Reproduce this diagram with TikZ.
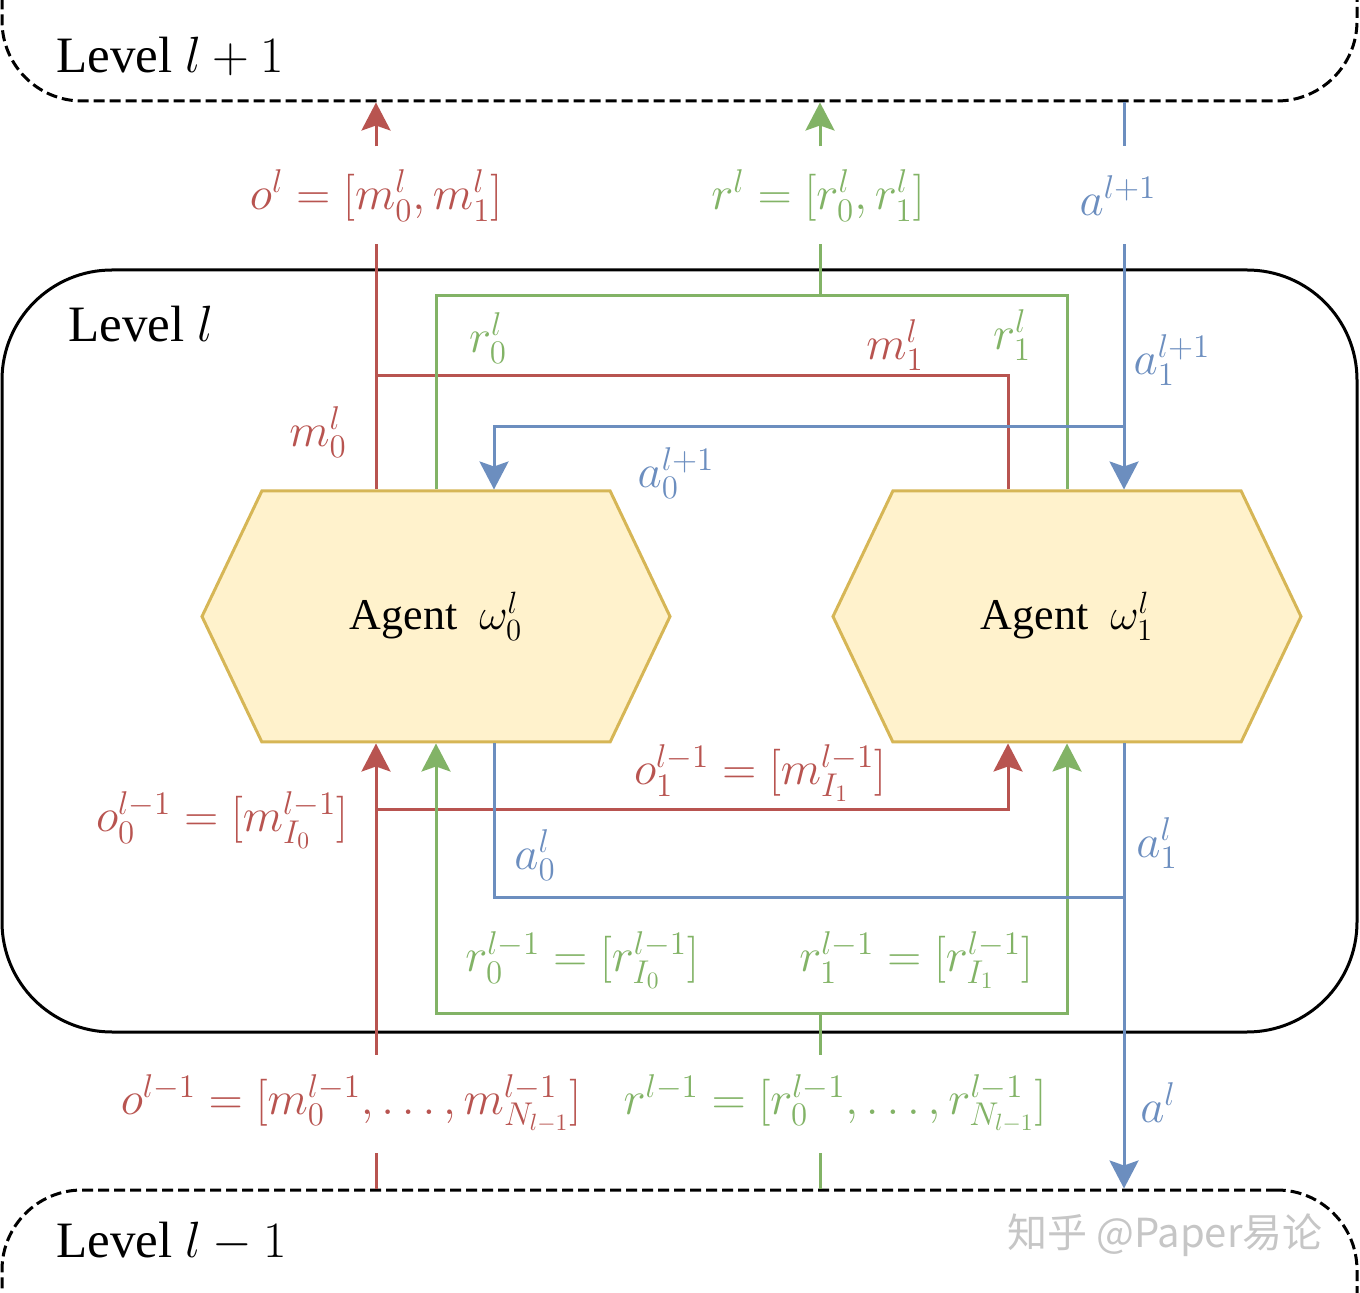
\RequirePackage{fix-cm}
\documentclass[tikz,border=0pt]{standalone}
\usepackage{fontspec}
\setmainfont{Liberation Serif}
\newfontfamily\cjk{Noto Sans CJK SC}
\usetikzlibrary{arrows.meta,shapes.symbols,calc}
\definecolor{cred}{HTML}{B85450}
\definecolor{cgreen}{HTML}{82B366}
\definecolor{cblue}{HTML}{6C8EBF}
\definecolor{cfill}{HTML}{FFF2CC}
\definecolor{cborder}{HTML}{D6B656}
\begin{document}
\begin{tikzpicture}[x=0.5pt,y=-0.5pt,line width=1.5pt,
  agent/.style={shape=signal, signal to=west and east, signal pointer angle=129,
    draw=cborder, fill=cfill, minimum width=234pt, minimum height=125.5pt,
    inner sep=0pt, font=\fontsize{22}{26}\selectfont},
  levelbox/.style={draw=black, rectangle, minimum width=677.5pt},
  lvltext/.style={anchor=base west, inner sep=0pt, font=\fontsize{25.5}{30}\selectfont},
  lab/.style={font=\fontsize{23.5}{28}\selectfont, inner sep=0pt},
  gaplab/.style={lab, minimum height=47.5pt},
  tip/.style={-{Stealth[length=14pt,width=14.5pt,inset=2.5pt]}}]
\useasboundingbox (0,0) rectangle (1360,1293);

% level boxes
\node[levelbox, dashed, dash pattern=on 5.5pt off 2.5pt, rounded corners=40pt, minimum height=151pt] (top) at (679.5,-50) {};
\node[levelbox, rounded corners=55pt, minimum height=381pt] (mid) at (679.5,651) {};
\node[levelbox, dashed, dash pattern=on 5.5pt off 2.5pt, rounded corners=40pt, minimum height=151pt] (bot) at (679.5,1341) {};
\node[lvltext] (tl) at (55,73) {Level $l+1$};
\node[lvltext] (ml) at (67,342) {Level $l$};
\node[lvltext] (bl) at (55,1257) {Level $l-1$};

% agents
\node[agent] (agent0) at (436,616.5) {Agent\ \ $\omega_0^l$};
\node[agent] (agent1) at (1067,616.5) {Agent\ \ $\omega_1^l$};

% column coordinates
\coordinate (xr) at (376,0);
\coordinate (xr1) at (1008,0);
\coordinate (xg) at (820,0);
\coordinate (xb) at (1124,0);
\coordinate (xb0) at (494,0);
\coordinate (mjoin) at (376,376);
\coordinate (gtop) at (820,296);
\coordinate (bjoin) at (1124,427);
\coordinate (rjoinb) at (376,810);
\coordinate (gbot) at (820,1013);
\coordinate (bjoinb) at (1124,897);

% gap labels
\node[gaplab, text=cred] (ol) at (376,195.5) {$o^l=[m_0^l,m_1^l]$};
\node[gaplab, text=cgreen] (rlt) at (818,195.5) {$r^l=[r_0^l,r_1^l]$};
\node[gaplab, text=cblue] (al1) at (1118,195.5) {$a^{l+1}$};
\node[gaplab, text=cred] (olm) at (351,1103.5) {$o^{l-1}=[m_0^{l-1},\ldots,m_{N_{l-1}}^{l-1}]$};
\node[gaplab, text=cgreen] (rlm) at (835,1103.5) {$r^{l-1}=[r_0^{l-1},\ldots,r_{N_{l-1}}^{l-1}]$};

% red connectors
\draw[cred] (agent0.north -| xr) -- (ol.south -| xr);
\draw[cred,tip] (ol.north -| xr) -- (top.south -| xr);
\draw[cred] (agent1.north -| xr1) |- (mjoin);
\draw[cred] (bot.north -| xr) -- (olm.south -| xr);
\draw[cred,tip] (olm.north -| xr) -- (agent0.south -| xr);
\draw[cred,tip] (rjoinb) -| (agent1.south -| xr1);

% green connectors
\draw[cgreen] (agent0.north) |- (gtop) -| (agent1.north);
\draw[cgreen] (gtop) -- (rlt.south -| xg);
\draw[cgreen,tip] (rlt.north -| xg) -- (top.south -| xg);
\draw[cgreen] (bot.north -| xg) -- (rlm.south -| xg);
\draw[cgreen] (rlm.north -| xg) -- (gbot);
\draw[cgreen,tip] (gbot) -| (agent0.south);
\draw[cgreen,tip] (gbot) -| (agent1.south);

% blue connectors
\draw[cblue] (top.south -| xb) -- (al1.north -| xb);
\draw[cblue,tip] (al1.south -| xb) -- (agent1.north -| xb);
\draw[cblue,tip] (bjoin) -| (agent0.north -| xb0);
\draw[cblue,tip] (agent1.south -| xb) -- (bot.north -| xb);
\draw[cblue] (agent0.south -| xb0) |- (bjoinb);

% other labels
\node[lab, text=cred] (m0) at (318,432) {$m_0^l$};
\node[lab, text=cred] (m1) at (895,345) {$m_1^l$};
\node[lab, text=cgreen] (r0) at (488,338) {$r_0^l$};
\node[lab, text=cgreen] (r1) at (1012,335) {$r_1^l$};
\node[lab, text=cblue] (a0l1) at (676,473) {$a_0^{l+1}$};
\node[lab, text=cblue] (a1l1) at (1172,360) {$a_1^{l+1}$};
\node[lab, text=cred] (o0) at (222,820) {$o_0^{l-1}=[m_{I_0}^{l-1}]$};
\node[lab, text=cred] (o1) at (760,773) {$o_1^{l-1}=[m_{I_1}^{l-1}]$};
\node[lab, text=cblue] (a0) at (535,855) {$a_0^l$};
\node[lab, text=cblue] (a1) at (1157,843) {$a_1^l$};
\node[lab, text=cgreen] (r0m) at (582,960) {$r_0^{l-1}=[r_{I_0}^{l-1}]$};
\node[lab, text=cgreen] (r1m) at (916,960) {$r_1^{l-1}=[r_{I_1}^{l-1}]$};
\node[lab, text=cblue] (al) at (1158,1103) {$a^l$};

% watermark
\node[font=\cjk\fontsize{20}{24}\selectfont, text=gray!45] (wm) at (1165,1235) {知乎 @Paper易论};
\end{tikzpicture}
\end{document}
